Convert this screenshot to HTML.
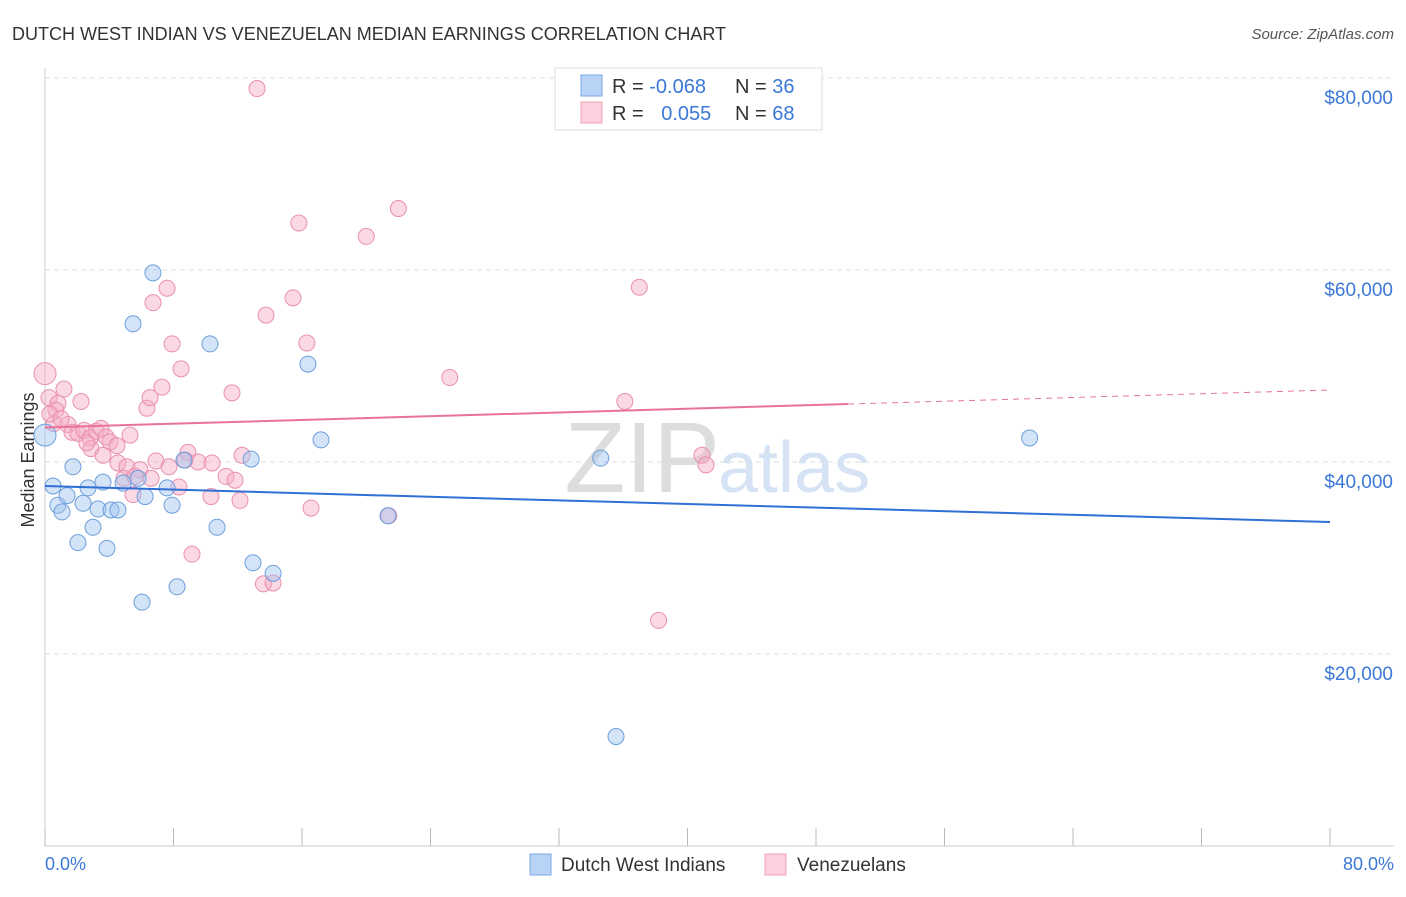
<!DOCTYPE html>
<html><head><meta charset="utf-8">
<style>
body{margin:0;background:#fff;font-family:"Liberation Sans",sans-serif;}
svg text{font-family:"Liberation Sans",sans-serif;}
</style></head>
<body>
<svg id="chart" width="1406" height="892">
<text x="12" y="40" font-size="18" fill="#333">DUTCH WEST INDIAN VS VENEZUELAN MEDIAN EARNINGS CORRELATION CHART</text>
<text x="1394" y="39" font-size="15" fill="#555" font-style="italic" text-anchor="end">Source: ZipAtlas.com</text>
<text x="34" y="460" font-size="18" fill="#333" text-anchor="middle" transform="rotate(-90 34 460)">Median Earnings</text>
<g id="grid"></g>
<text x="720" y="492" font-size="100" fill="#ddd" text-anchor="end" font-family="Liberation Serif">ZIP</text>
<text x="718" y="492" font-size="72" fill="#d5e3f5">atlas</text>
<g id="pts"></g>
<g id="trend"></g>
<g>
<rect x="555" y="68" width="267" height="62" fill="#fff" stroke="#ddd"/>
<rect x="581" y="75" width="21" height="21" fill="#b8d3f5" stroke="#7aa8e6"/>
<rect x="581" y="102" width="21" height="21" fill="#fcd0dd" stroke="#efa0b8"/>
<text x="612" y="93" font-size="20" fill="#333">R = <tspan fill="#3b78d8">-0.068</tspan></text>
<text x="735" y="93" font-size="20" fill="#333">N = <tspan fill="#3b78d8">36</tspan></text>
<text x="612" y="120" font-size="20" fill="#333">R = <tspan fill="#3b78d8" dx="12">0.055</tspan></text>
<text x="735" y="120" font-size="20" fill="#333">N = <tspan fill="#3b78d8">68</tspan></text>
</g>
<g>
<rect x="530" y="854" width="21" height="21" fill="#b8d3f5" stroke="#7aa8e6"/>
<text x="561" y="871" font-size="19" fill="#333">Dutch West Indians</text>
<rect x="765" y="854" width="21" height="21" fill="#fcd0dd" stroke="#efa0b8"/>
<text x="797" y="871" font-size="19" fill="#333">Venezuelans</text>
</g>
<text x="45" y="870" font-size="18" fill="#3b78d8">0.0%</text>
<text x="1394" y="870" font-size="18" fill="#3b78d8" text-anchor="end">80.0%</text>
</svg>
<script>
const yTicks=[20000,40000,60000,80000];
const yTickLabels=["$20,000","$40,000","$60,000","$80,000"];
const xTicks=[0,8,16,24,32,40,48,56,64,72,80];
const blueX=[0,0.5,0.8,1.06,1.37,1.74,2.05,2.37,2.68,2.99,3.3,3.61,3.86,4.11,4.54,4.86,5.48,5.79,6.04,6.23,6.72,7.6,7.91,8.22,8.65,10.27,10.71,12.83,12.95,14.2,16.37,17.18,21.35,34.6,35.55,61.3];
const blueY=[42.8,37.5,35.5,34.8,36.5,39.5,31.6,35.7,37.3,33.2,35.1,37.9,31.0,35.0,35.0,37.8,54.4,38.3,25.4,36.4,59.7,37.3,35.5,27.0,40.2,52.3,33.2,40.3,29.5,28.4,50.2,42.3,34.4,40.4,11.4,42.5];
const pinkX=[13.2,15.8,22.0,20.0,7.6,6.72,15.44,13.76,37.0,7.91,16.3,8.47,0,1.18,7.28,11.64,25.2,0.25,0.81,2.24,6.35,6.54,36.1,0.68,0.56,1.43,1.68,2.05,2.43,2.8,3.18,3.49,3.8,4.05,5.29,2.86,3.61,4.48,8.9,4.54,5.1,5.91,6.91,7.72,8.72,9.53,10.4,12.27,40.9,41.15,4.92,5.6,6.6,8.34,11.27,11.83,5.48,10.33,12.14,16.56,21.4,9.15,13.6,14.2,38.2,0.3,1.0,2.6];
const pinkY=[78.9,64.9,66.4,63.5,58.1,56.6,57.1,55.3,58.2,52.3,52.4,49.7,49.2,47.6,47.8,47.2,48.8,46.7,46.1,46.3,45.6,46.7,46.3,45.4,44.0,43.9,43.1,43.0,43.3,42.5,43.2,43.5,42.6,42.1,42.8,41.4,40.7,41.7,41.0,39.9,39.5,39.2,40.1,39.5,40.2,40.0,39.9,40.7,40.7,39.7,38.3,38.5,38.3,37.4,38.5,38.1,36.6,36.4,36.0,35.2,34.4,30.4,27.3,27.4,23.5,45.0,44.5,42.0];
const blueTrend=[37.5,33.75];
const pinkTrend=[43.6,47.5];
const X=v=>45+v/80*1285;
const Y=v=>846-v/20000*192;
const Yk=v=>Y(v*1000);
const NS="http://www.w3.org/2000/svg";
function mk(t,a,p){const e=document.createElementNS(NS,t);for(const k in a)e.setAttribute(k,a[k]);p.appendChild(e);return e;}
const grid=document.getElementById('grid');
mk('line',{x1:45,y1:68,x2:45,y2:846,stroke:'#ccc'},grid);
mk('line',{x1:45,y1:846,x2:1394,y2:846,stroke:'#ccc'},grid);
mk('line',{x1:45,y1:78,x2:1394,y2:78,stroke:'#ddd','stroke-dasharray':'5,4'},grid);
yTicks.forEach((t,i)=>{
 const g=mk('line',{x1:45,y1:Y(t),x2:1394,y2:Y(t),stroke:'#ddd','stroke-dasharray':'5,4'},grid);
 
 
 const tx=mk('text',{x:1393,y:Y(t)+26,'font-size':19,fill:'#3b78d8','text-anchor':'end'},grid);
 tx.textContent=yTickLabels[i];
 
 
});
xTicks.forEach(t=>{
 const l=mk('line',{x1:X(t),y1:828,x2:X(t),y2:846,stroke:'#bbb'},grid);
 
 
});
const pts=document.getElementById('pts');
pinkX.forEach((x,i)=>{
 const big=(x===0);
 const c=mk('circle',{cx:X(x),cy:Yk(pinkY[i]),r:big?11:8,fill:'rgba(245,170,195,0.45)',stroke:'#ea8fae','stroke-width':1},pts);
 
 
});
blueX.forEach((x,i)=>{
 const big=(x===0);
 const c=mk('circle',{cx:X(x),cy:Yk(blueY[i]),r:big?11:8,fill:'rgba(160,195,240,0.45)',stroke:'#6d9fdc','stroke-width':1},pts);
 
 
});
const tr=document.getElementById('trend');
const bl=mk('line',{x1:X(0),y1:Yk(blueTrend[0]),x2:X(80),y2:Yk(blueTrend[1]),stroke:'#2f6fd6','stroke-width':2},tr);


const pm=pinkTrend[0]+(pinkTrend[1]-pinkTrend[0])*50/80;
const pl=mk('line',{x1:X(0),y1:Yk(pinkTrend[0]),x2:X(50),y2:Yk(pm),stroke:'#e8729a','stroke-width':2},tr);


const pd=mk('line',{x1:X(50),y1:Yk(pm),x2:X(80),y2:Yk(pinkTrend[1]),stroke:'#e8729a','stroke-width':1,'stroke-dasharray':'6,5'},tr);


</script>
</body></html>
